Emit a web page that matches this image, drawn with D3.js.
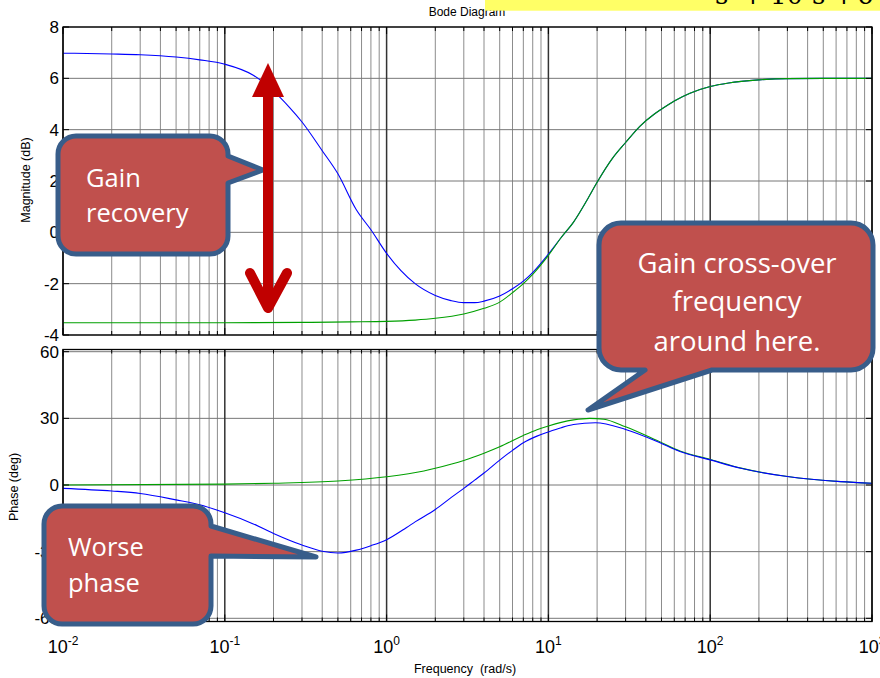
<!DOCTYPE html>
<html><head><meta charset="utf-8">
<script src="https://cdn.jsdelivr.net/npm/d3@7"></script>
<style>html,body{margin:0;padding:0;background:#fff}svg{display:block}</style>
</head><body>
<svg id="chart" width="880" height="678"></svg>
<script>
// ---------- data ----------
const magFreqBlue = [0.01,0.02,0.03,0.05,0.07,0.1,0.15,0.2,0.25,0.3,0.4,0.5,0.65,0.8,1,1.5,2,2.5,3,3.5,4,5,6,7,8.1,10,12,14.3,17.3,20,25,30,37,45,50,60,75,100,130,200,300,500,1000];
const magBlue     = [6.98,6.95,6.92,6.83,6.72,6.55,6.12,5.5,4.88,4.3,3.18,2.28,0.88,0.1,-0.82,-2.0,-2.46,-2.66,-2.74,-2.74,-2.68,-2.48,-2.2,-1.9,-1.53,-0.85,-0.2,0.4,1.25,1.95,2.9,3.5,4.15,4.6,4.8,5.12,5.42,5.68,5.82,5.94,5.99,6.0,6.0];
const magFreqGreen = [0.01,0.1,0.3,0.6,1,1.5,2,3,4,5,6,7,8.1,10,12,14.3,17.3,20,25,30,37,45,50,60,75,100,130,200,300,500,1000];
const magGreen     = [-3.52,-3.52,-3.51,-3.49,-3.47,-3.42,-3.35,-3.18,-2.96,-2.72,-2.35,-2.0,-1.6,-0.9,-0.2,0.4,1.25,1.95,2.9,3.5,4.15,4.6,4.8,5.12,5.42,5.68,5.82,5.94,5.99,6.0,6.0];
const phFreqBlue = [0.01,0.02,0.03,0.05,0.07,0.1,0.15,0.2,0.3,0.4,0.5,0.65,0.8,1,1.33,1.5,2,2.5,3,3.5,4,5,6,7,8.5,10,12,14.3,19.5,30,47,65,100,155,300,640,1000];
const phBlue     = [-1.5,-2.7,-3.8,-6.7,-8.9,-12.5,-17.5,-21.8,-27,-29.8,-30.6,-29.3,-27.3,-24.6,-19.1,-16.6,-11,-5.7,-1.5,2.2,5.4,11.2,15.6,19,22,23.9,25.8,27.2,28.0,25.0,19.6,15.1,11.3,7.5,3.8,1.5,0.8];
const phFreqGreen = [0.01,0.1,0.2,0.5,1,1.7,2,3,4,5,7,8.5,10,12,14.3,18,22,30,47,65,100,155,300,640,1000];
const phGreen     = [0,0.4,0.8,1.8,3.7,6.3,7.5,11,14.3,17.2,22.3,24.9,26.6,28.2,29.3,30.0,29.6,26.2,20,15.3,11.5,7.6,3.8,1.5,0.8];
const magTicks = [-4,-2,0,2,4,6,8];
const phaseTicks = [-60,-30,0,30,60];
const decades = [0.01,0.1,1,10,100,1000];
const decadeExponents = ["-2","-1","0","1","2","3"];

// ---------- layout ----------
const svg = d3.select("#chart");
const X0 = 63, X1 = 872;
const magTop = 27, magBot = 335;
const phTop = 349.5, phBot = 621.5;
const x = d3.scaleLog().domain([0.01,1000]).range([X0,X1]);
const yMag = d3.scaleLinear().domain([-4,8]).range([magBot,magTop]);
const yPh = d3.scaleLinear().domain([-60,60]).range([618.3,351.7]);

const minorFreqs = [];
decades.slice(0,-1).forEach(d => { for (let k=2;k<=9;k++) minorFreqs.push(d*k); });

function panel(y, ticks, top, bot, xs, ys, colors) {
  const g = svg.append("g");
  g.selectAll(null).data(minorFreqs).enter().append("line")
    .attr("x1",d=>x(d)).attr("x2",d=>x(d)).attr("y1",top).attr("y2",bot)
    .attr("stroke","#8c8c8c").attr("stroke-width",1);
  g.selectAll(null).data(ticks).enter().append("line")
    .attr("x1",X0).attr("x2",X1).attr("y1",d=>y(d)).attr("y2",d=>y(d))
    .attr("stroke","#777").attr("stroke-width",1);
  g.selectAll(null).data(decades).enter().append("line")
    .attr("x1",d=>x(d)).attr("x2",d=>x(d)).attr("y1",top).attr("y2",bot)
    .attr("stroke","#333").attr("stroke-width",1.5);
  const line = d3.line().x(d=>x(d[0])).y(d=>y(d[1])).curve(d3.curveMonotoneX);
  xs.forEach((fx,i)=>{
    g.append("path").datum(fx.map((f,j)=>[f, ys[i][j]]))
      .attr("d",line).attr("fill","none").attr("stroke",colors[i]).attr("stroke-width",1.1);
  });
  g.append("rect").attr("x",X0).attr("y",top).attr("width",X1-X0).attr("height",bot-top)
    .attr("fill","none").attr("stroke","#000").attr("stroke-width",1.3);
  const allX = minorFreqs.map(f=>({f,len:4})).concat(decades.map(f=>({f,len:7})));
  allX.forEach(t=>{
    g.append("line").attr("x1",x(t.f)).attr("x2",x(t.f)).attr("y1",top).attr("y2",top+t.len).attr("stroke","#000");
    g.append("line").attr("x1",x(t.f)).attr("x2",x(t.f)).attr("y1",bot).attr("y2",bot-t.len).attr("stroke","#000");
  });
  ticks.forEach(v=>{
    g.append("line").attr("x1",X0).attr("x2",X0+6).attr("y1",y(v)).attr("y2",y(v)).attr("stroke","#000");
    g.append("line").attr("x1",X1).attr("x2",X1-6).attr("y1",y(v)).attr("y2",y(v)).attr("stroke","#000");
  });
  g.selectAll(null).data(ticks).enter().append("text")
    .attr("x",59).attr("y",d=>y(d)).attr("dy","0.35em")
    .attr("text-anchor","end").attr("font-family","Liberation Sans, Arial, sans-serif")
    .attr("font-size",17).attr("fill","#000").text(d=>d);
}

panel(yMag, magTicks, magTop, magBot, [magFreqBlue, magFreqGreen], [magBlue, magGreen], ["#0000ff","#00a000"]);
panel(yPh, phaseTicks, phTop, phBot, [phFreqGreen, phFreqBlue], [phGreen, phBlue], ["#00a000","#0000ff"]);

const font = "Liberation Sans, Arial, sans-serif";
decades.forEach((d,i)=>{
  const t = svg.append("text").attr("x",x(d)).attr("y",653).attr("text-anchor","middle")
    .attr("font-family",font).attr("font-size",18).attr("fill","#000");
  t.append("tspan").text("10");
  t.append("tspan").attr("dy",-8).attr("font-size",12).text(decadeExponents[i]);
});
svg.append("text").attr("x",465).attr("y",673).attr("text-anchor","middle")
  .attr("font-family",font).attr("font-size",12.5).attr("xml:space","preserve").text("Frequency  (rad/s)");
svg.append("text").attr("transform","translate(30,180) rotate(-90)").attr("text-anchor","middle")
  .attr("font-family",font).attr("font-size",12.5).text("Magnitude (dB)");
svg.append("text").attr("transform","translate(18,487) rotate(-90)").attr("text-anchor","middle")
  .attr("font-family",font).attr("font-size",12.5).text("Phase (deg)");
svg.append("text").attr("x",467).attr("y",16).attr("text-anchor","middle")
  .attr("font-family",font).attr("font-size",12).text("Bode Diagram");

svg.append("rect").attr("x",485).attr("y",0).attr("width",395).attr("height",10.7).attr("fill","#ffff66");
[["s",715],["+",742],["10",770],["s",812],["+",833],["6",857]].forEach(([s,px])=>{
  svg.append("text").attr("x",px).attr("y",4).attr("font-family","DejaVu Serif, serif")
    .attr("font-size",26).attr("fill","#000").text(s);
});

// ---------- annotations ----------
const calloutFill = "#c0504d", calloutStroke = "#385d8a";
function callout(d) {
  svg.append("path").attr("d",d).attr("fill",calloutFill).attr("stroke",calloutStroke)
    .attr("stroke-width",5).attr("stroke-linejoin","round");
}
function label(lines, px, baselines, anchor, size) {
  lines.forEach((s,i)=>{
    svg.append("text").attr("x",px).attr("y",baselines[i]).attr("text-anchor",anchor)
      .attr("font-family","Open Sans, Noto Sans, sans-serif").attr("font-size",size)
      .attr("fill","#fff").text(s);
  });
}
callout("M76,136 H210 A18,18 0 0 1 228,154 L228,156 L263,170 L228,183 V236 A18,18 0 0 1 210,254 H76 A18,18 0 0 1 58,236 V154 A18,18 0 0 1 76,136 Z");
label(["Gain","recovery"], 86, [187,222], "start", 25.5);
callout("M621,223 H851 A22,22 0 0 1 873,245 V348 A22,22 0 0 1 851,370 H712 L588,410 L645,370 H621 A22,22 0 0 1 599,348 V245 A22,22 0 0 1 621,223 Z");
label(["Gain cross-over","frequency","around here."], 737, [273,311,351], "middle", 27.5);
callout("M62,506 H193 A18,18 0 0 1 211,524 L211,526 L316,557 L211,556 V606 A18,18 0 0 1 193,624 H62 A18,18 0 0 1 44,606 V524 A18,18 0 0 1 62,506 Z");
label(["Worse","phase"], 68, [556,592], "start", 25.5);

const red = "#c00000";
svg.append("line").attr("x1",268).attr("x2",268).attr("y1",92).attr("y2",306)
  .attr("stroke",red).attr("stroke-width",10);
svg.append("path").attr("d","M268,63 L252,97 L284,97 Z").attr("fill",red);
svg.append("path").attr("d","M250,273 L268,308 L287,273").attr("fill","none")
  .attr("stroke",red).attr("stroke-width",10).attr("stroke-linecap","round").attr("stroke-linejoin","round");
</script>
</body></html>
